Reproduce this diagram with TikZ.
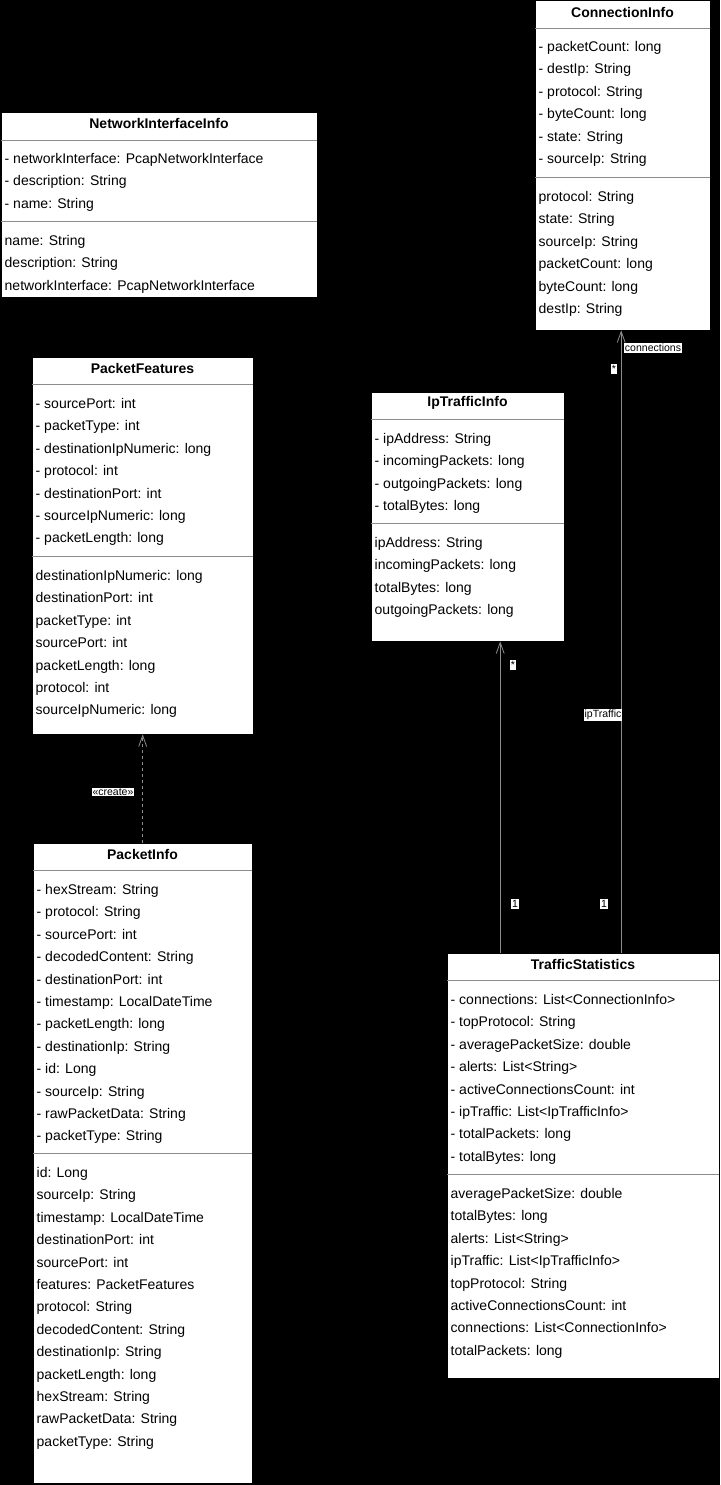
\documentclass[tikz,border=0pt]{standalone}
\usepackage{fontspec}
\setmainfont{Liberation Sans}
\usetikzlibrary{arrows.meta}
% one compartment list: x of text, y of first row, prefix for node names, rows
\newcommand\classrows[4]{%
  \foreach \t [count=\i from 0] in {#4}
    \node[member] (#3\i) at (#1, #2+22.4*\i) {\t};}
\begin{document}
\begin{tikzpicture}[x=1pt,y=-1pt,
  classbox/.style={draw=black, fill=white, inner sep=0pt, anchor=north west},
  member/.style={anchor=west, inner sep=0pt, text height=10pt, text depth=3pt,
    text=black, font=\fontsize{14}{16}\selectfont},
  classtitle/.style={inner sep=0pt, text=black, font=\fontsize{14}{16}\selectfont\bfseries},
  divider/.style={draw=gray!90, line width=0.8pt},
  link/.style={draw=gray!90, line width=0.8pt, -{Straight Barb[length=11pt,width=8pt]}},
  edgelabel/.style={fill=white, text=black, inner sep=1pt, font=\fontsize{10.5}{12}\selectfont},
]
\fill[black] (0,0) rectangle (720,1485);
\useasboundingbox (0,0) rectangle (720,1485);

% ConnectionInfo
\node[classbox, minimum width=175pt, minimum height=330pt] (ci) at (535,0) {};
\node[classtitle] (ci-t) at (622.5,12) {ConnectionInfo};
\draw[divider] (ci.west |- 0,28) -- (ci.east |- 0,28);
\classrows{538.5}{48}{cif}{- packetCount: long,- destIp: String,- protocol: String,- byteCount: long,- state: String,- sourceIp: String}
\draw[divider] (ci.west |- 0,177) -- (ci.east |- 0,177);
\classrows{538.5}{198}{cim}{protocol: String,state: String,sourceIp: String,packetCount: long,byteCount: long,destIp: String}

% NetworkInterfaceInfo
\node[classbox, minimum width=316pt, minimum height=185pt] (nii) at (1,112) {};
\node[classtitle] (nii-t) at (159,123) {NetworkInterfaceInfo};
\draw[divider] (nii.west |- 0,140) -- (nii.east |- 0,140);
\classrows{4.5}{160}{niif}{- networkInterface: PcapNetworkInterface,- description: String,- name: String}
\draw[divider] (nii.west |- 0,221) -- (nii.east |- 0,221);
\classrows{4.5}{242}{niim}{name: String,description: String,networkInterface: PcapNetworkInterface}

% PacketFeatures
\node[classbox, minimum width=221pt, minimum height=377pt] (pf) at (32,357) {};
\node[classtitle] (pf-t) at (142.5,368) {PacketFeatures};
\draw[divider] (pf.west |- 0,384) -- (pf.east |- 0,384);
\classrows{35.5}{405}{pff}{- sourcePort: int,- packetType: int,- destinationIpNumeric: long,- protocol: int,- destinationPort: int,- sourceIpNumeric: long,- packetLength: long}
\draw[divider] (pf.west |- 0,556) -- (pf.east |- 0,556);
\classrows{35.5}{577}{pfm}{destinationIpNumeric: long,destinationPort: int,packetType: int,sourcePort: int,packetLength: long,protocol: int,sourceIpNumeric: long}

% IpTrafficInfo
\node[classbox, minimum width=193pt, minimum height=249pt] (ip) at (371,392) {};
\node[classtitle] (ip-t) at (467.5,403) {IpTrafficInfo};
\draw[divider] (ip.west |- 0,419) -- (ip.east |- 0,419);
\classrows{374.5}{440}{ipf}{- ipAddress: String,- incomingPackets: long,- outgoingPackets: long,- totalBytes: long}
\draw[divider] (ip.west |- 0,523) -- (ip.east |- 0,523);
\classrows{374.5}{544}{ipm}{ipAddress: String,incomingPackets: long,totalBytes: long,outgoingPackets: long}

% PacketInfo
\node[classbox, minimum width=219pt, minimum height=640pt] (pi) at (33,843) {};
\node[classtitle] (pi-t) at (142.5,854) {PacketInfo};
\draw[divider] (pi.west |- 0,870) -- (pi.east |- 0,870);
\classrows{36.5}{891}{pif}{- hexStream: String,- protocol: String,- sourcePort: int,- decodedContent: String,- destinationPort: int,- timestamp: LocalDateTime,- packetLength: long,- destinationIp: String,- id: Long,- sourceIp: String,- rawPacketData: String,- packetType: String}
\draw[divider] (pi.west |- 0,1153) -- (pi.east |- 0,1153);
\classrows{36.5}{1174}{pim}{id: Long,sourceIp: String,timestamp: LocalDateTime,destinationPort: int,sourcePort: int,features: PacketFeatures,protocol: String,decodedContent: String,destinationIp: String,packetLength: long,hexStream: String,rawPacketData: String,packetType: String}

% TrafficStatistics
\node[classbox, minimum width=272pt, minimum height=425pt] (ts) at (447,953) {};
\node[classtitle] (ts-t) at (583,964) {TrafficStatistics};
\draw[divider] (ts.west |- 0,980) -- (ts.east |- 0,980);
\classrows{450.5}{1001}{tsf}{- connections: List<ConnectionInfo>,- topProtocol: String,- averagePacketSize: double,- alerts: List<String>,- activeConnectionsCount: int,- ipTraffic: List<IpTrafficInfo>,- totalPackets: long,- totalBytes: long}
\draw[divider] (ts.west |- 0,1174) -- (ts.east |- 0,1174);
\classrows{450.5}{1195}{tsm}{averagePacketSize: double,totalBytes: long,alerts: List<String>,ipTraffic: List<IpTrafficInfo>,topProtocol: String,activeConnectionsCount: int,connections: List<ConnectionInfo>,totalPackets: long}

% associations
\draw[link] ([xshift=-83pt]ts.north) -- ([xshift=32.5pt]ip.south);
\draw[link] ([xshift=38pt]ts.north) -- ([xshift=-1.5pt]ci.south);
\draw[link, dashed, dash pattern=on 3pt off 3pt] (pi.north) -- (pf.south);

% association labels
\node[edgelabel] (l-ipstar) at (513,665) {*};
\node[edgelabel] (l-ipone) at (515,904) {1};
\node[edgelabel] (l-iptraffic) at (603,715) {ipTraffic};
\node[edgelabel] (l-cistar) at (614,369) {*};
\node[edgelabel] (l-cione) at (604,904) {1};
\node[edgelabel] (l-conn) at (653,348) {connections};
\node[edgelabel] (l-create) at (113,792) {«create»};
\end{tikzpicture}
\end{document}
